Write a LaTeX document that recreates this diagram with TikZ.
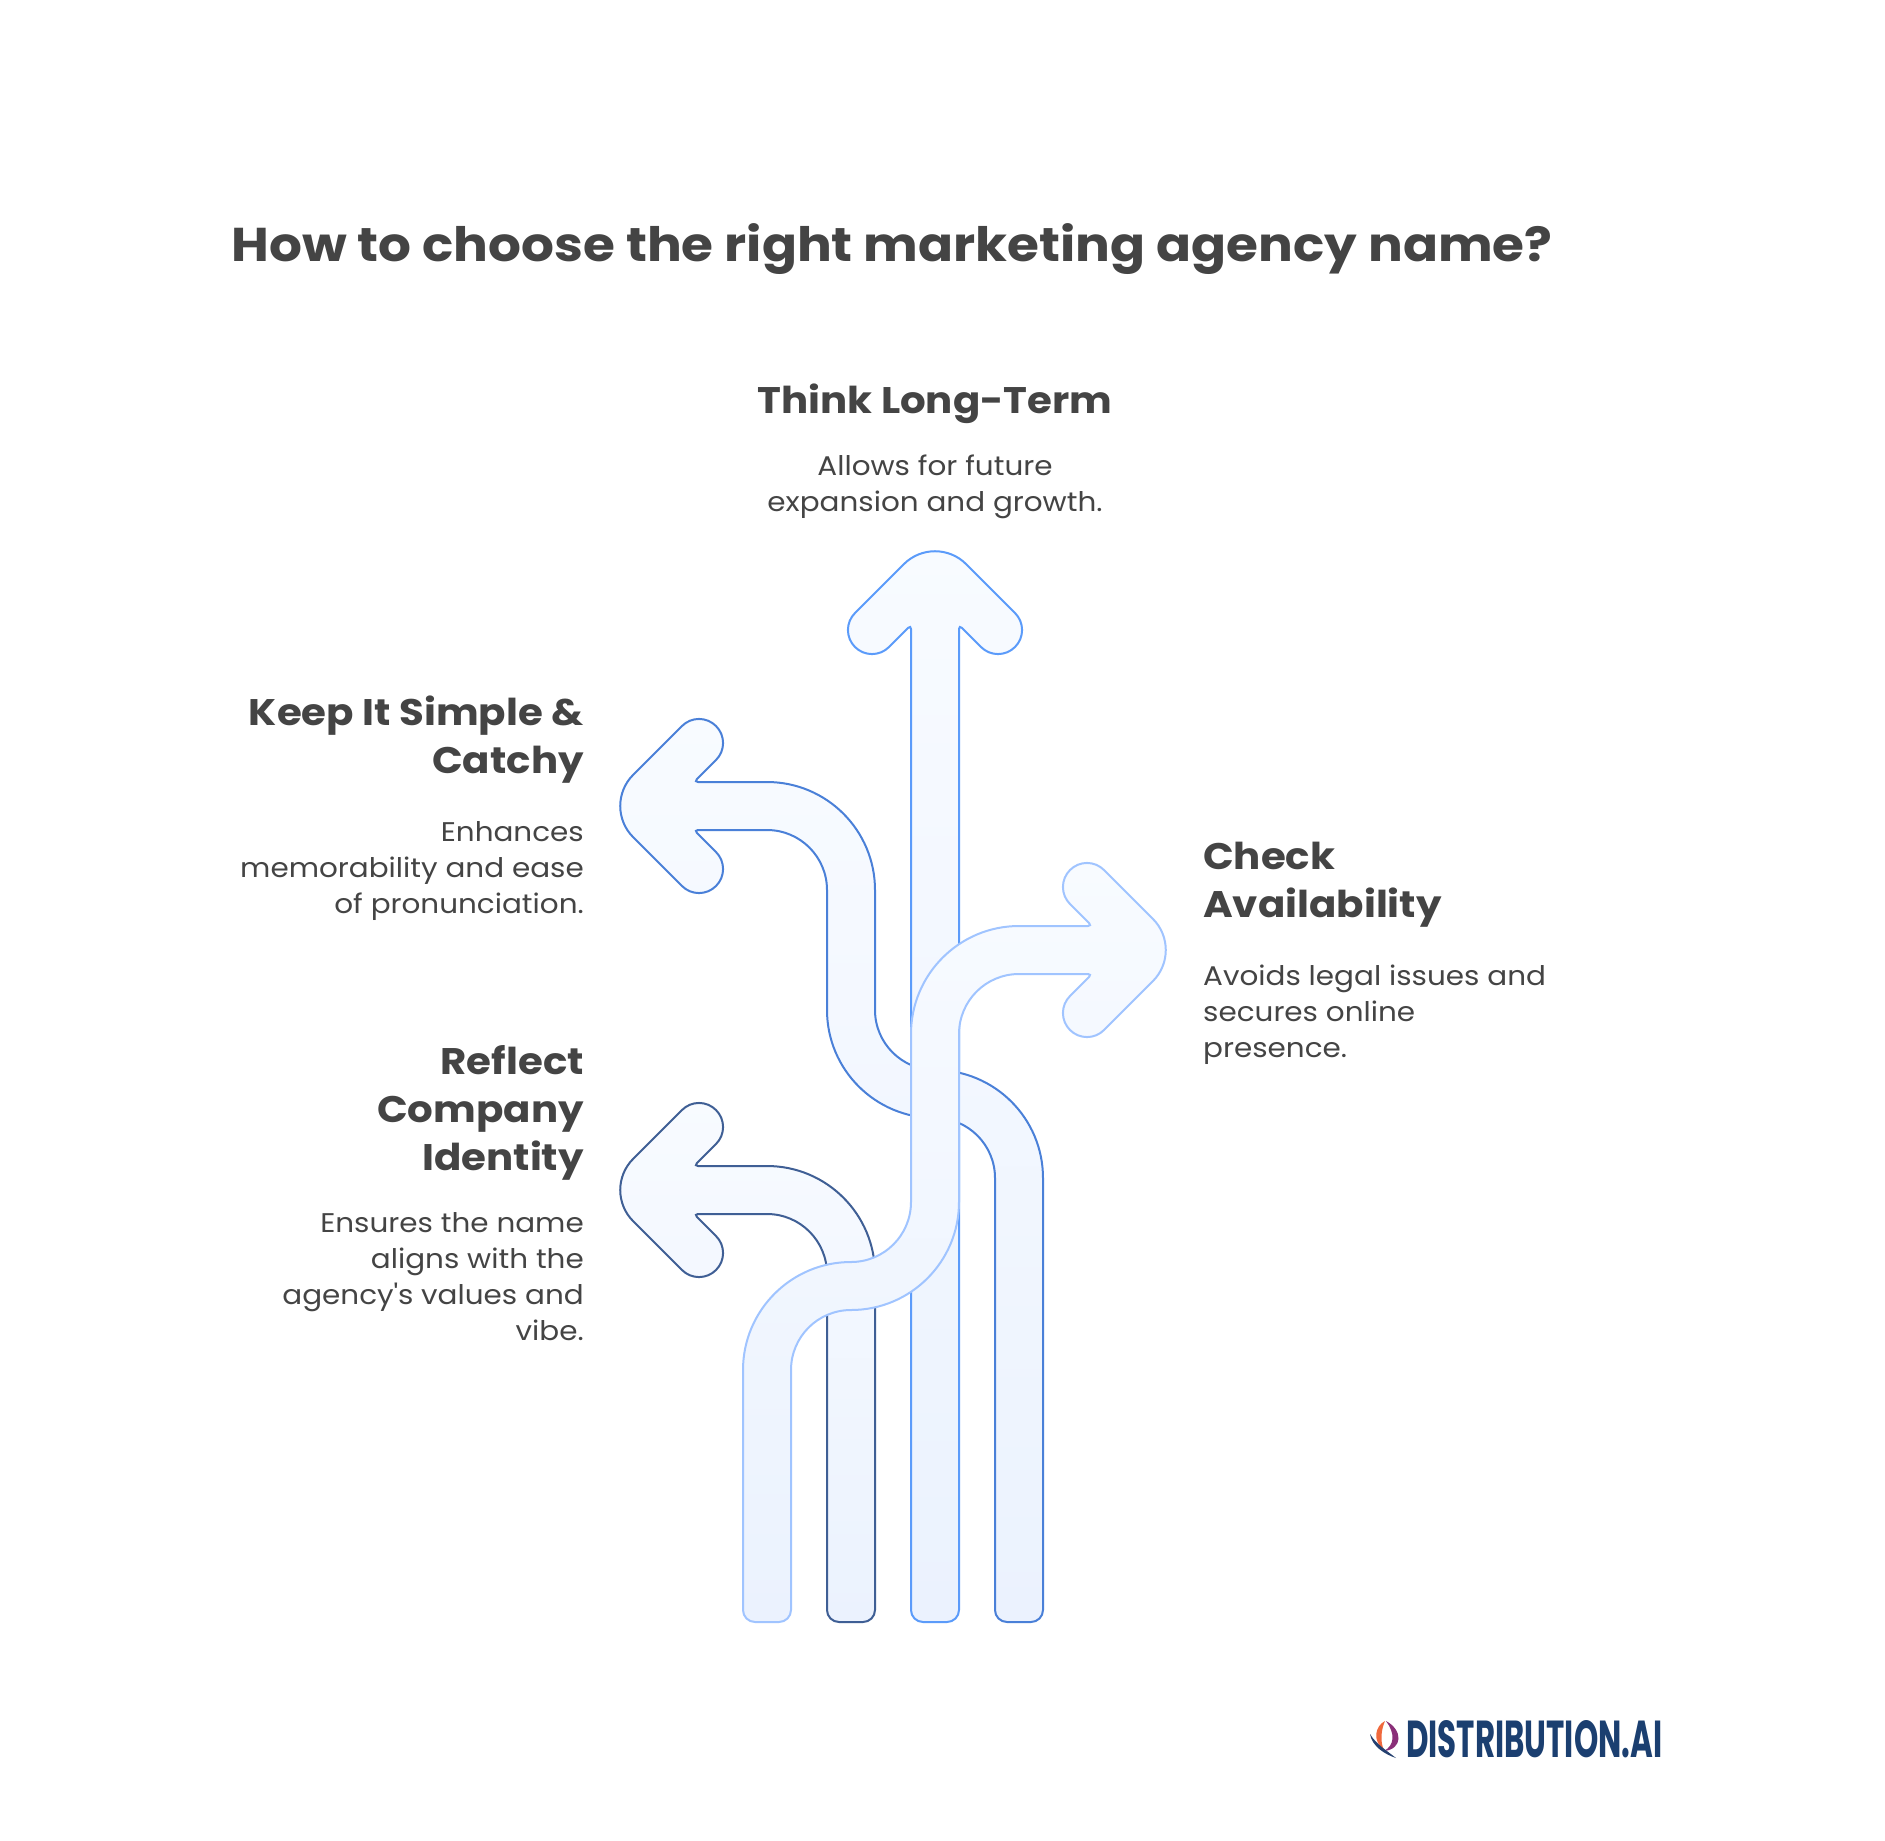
\documentclass[tikz,border=0pt]{standalone}
\usepackage{fontspec}
\usepackage{tikz}
\usetikzlibrary{positioning}
\setmainfont{Poppins}[FakeStretch=1.09]
\definecolor{inktext}{HTML}{444444}
\definecolor{logoblue}{HTML}{1B3F70}
\definecolor{filltop}{HTML}{F8FBFF}
\definecolor{fillbot}{HTML}{EBF2FE}
\definecolor{upline}{HTML}{5B9BFA}
\definecolor{keepline}{HTML}{4A80D8}
\definecolor{reflectline}{HTML}{3F5F95}
\definecolor{checkline}{HTML}{A0C4FF}
\definecolor{flameleft}{HTML}{F0683C}
\definecolor{flameright}{HTML}{8A2F78}
\definecolor{tailblue}{HTML}{24406F}
\tikzset{
  titletext/.style={inner sep=0pt,text=inktext,font=\fontsize{47.4}{56}\selectfont\bfseries},
  headtext/.style={inner sep=0pt,text=inktext,font=\fontsize{37}{48}\selectfont\bfseries},
  bodytext/.style={inner sep=0pt,text=inktext,font=\fontsize{27}{36}\selectfont},
  arrowbody/.style={line width=2pt,shade,top color=filltop,bottom color=fillbot},
}
\begin{document}
\begin{tikzpicture}[x=1pt,y=-1pt]
\useasboundingbox (0,0) rectangle (1885,1840);
\fill[white] (0,0) rectangle (1885,1840);

\node[titletext,anchor=base] (title) at (892,261) {How to choose the right marketing agency name?};

% arrows, back to front
\path[arrowbody,draw=upline] (935,1622) [rounded corners=12pt] -- (911,1622) [rounded corners=4pt] -- (911,625)
  [rounded corners=24pt] -- (872,664) -- (838,630) [rounded corners=44pt] -- (935,533)
  [rounded corners=24pt] -- (1032,630) -- (998,664) [rounded corners=4pt] -- (959,625) [rounded corners=12pt] -- (959,1622) [sharp corners] -- cycle;

\path[arrowbody,draw=keepline] (1019,1622) [rounded corners=12pt] -- (1043,1622)
  [rounded corners=108pt] -- (1043,1070) [rounded corners=60pt] -- (875,1070) [rounded corners=108pt] -- (875,782)
  [rounded corners=4pt] -- (694,782) [rounded corners=24pt] -- (733,743) -- (699,709) [rounded corners=44pt] -- (602,806)
  [rounded corners=24pt] -- (699,903) -- (733,869) [rounded corners=4pt] -- (694,830) [rounded corners=60pt] -- (827,830)
  [rounded corners=108pt] -- (827,1118) [rounded corners=60pt] -- (995,1118) [rounded corners=12pt] -- (995,1622) [sharp corners] -- cycle;

\path[arrowbody,draw=reflectline] (851,1622) [rounded corners=12pt] -- (875,1622)
  [rounded corners=108pt] -- (875,1166) [rounded corners=4pt] -- (694,1166) [rounded corners=24pt] -- (733,1127) -- (699,1093)
  [rounded corners=44pt] -- (602,1190) [rounded corners=24pt] -- (699,1287) -- (733,1253) [rounded corners=4pt] -- (694,1214)
  [rounded corners=60pt] -- (827,1214) [rounded corners=12pt] -- (827,1622) [sharp corners] -- cycle;

\path[arrowbody,draw=checkline] (767,1622) [rounded corners=12pt] -- (743,1622)
  [rounded corners=108pt] -- (743,1262) [rounded corners=60pt] -- (911,1262) [rounded corners=108pt] -- (911,926)
  [rounded corners=4pt] -- (1092,926) [rounded corners=24pt] -- (1053,887) -- (1087,853) [rounded corners=44pt] -- (1184,950)
  [rounded corners=24pt] -- (1087,1047) -- (1053,1013) [rounded corners=4pt] -- (1092,974) [rounded corners=60pt] -- (959,974)
  [rounded corners=108pt] -- (959,1310) [rounded corners=60pt] -- (791,1310) [rounded corners=12pt] -- (791,1622) [sharp corners] -- cycle;

% labels
\node[headtext,anchor=base] (longhead) at (935,413) {Think Long-Term};
\node[bodytext,align=center,below=31pt of longhead] (longbody) {Allows for future\\expansion and growth.};

\node[headtext,align=right,anchor=north east] (keephead) at (584,696) {Keep It Simple \&\\Catchy};
\node[bodytext,align=right,below=37pt of keephead.south east,anchor=north east] (keepbody) {Enhances\\memorability and ease\\of pronunciation.};

\node[headtext,align=left,anchor=north west] (checkhead) at (1203,842) {Check\\Availability};
\node[bodytext,align=left,below=37pt of checkhead.south west,anchor=north west] (checkbody) {Avoids legal issues and\\secures online\\presence.};

\node[headtext,align=right,anchor=north east] (reflecthead) at (584,1045) {Reflect\\Company\\Identity};
\node[bodytext,align=right,below=32pt of reflecthead.south east,anchor=north east] (reflectbody) {Ensures the name\\aligns with the\\agency\textquotesingle s values and\\vibe.};

% logo
\node[inner sep=0pt,anchor=north west,text=logoblue] (logotext) at (1406,1720) {\resizebox{256pt}{37pt}{\bfseries DISTRIBUTION.AI}};
\fill[flameleft] (1385,1721) .. controls (1375,1726) and (1372,1741) .. (1384,1750) .. controls (1380,1742) and (1381,1730) .. (1385,1721);
\fill[flameright] (1386,1721) .. controls (1403,1730) and (1403,1749) .. (1384,1751) .. controls (1395,1745) and (1395,1733) .. (1386,1721);
\fill[tailblue] (1370,1734) .. controls (1372,1746) and (1384,1754) .. (1396,1758) .. controls (1386,1750) and (1376,1744) .. (1370,1734);
\end{tikzpicture}
\end{document}
